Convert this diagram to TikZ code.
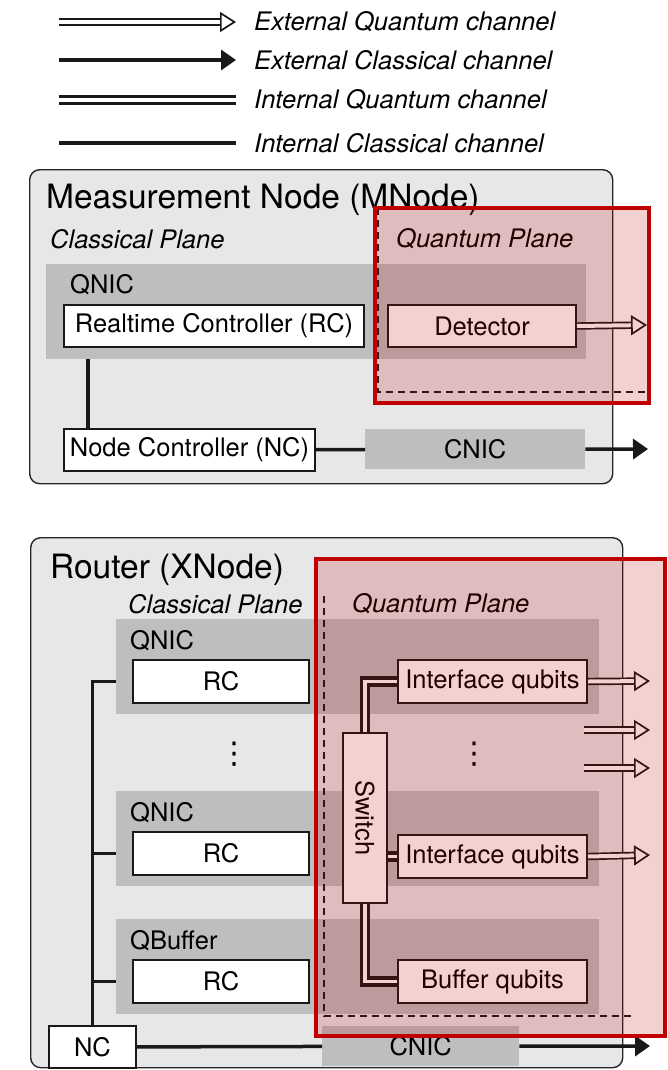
\documentclass[tikz,border=0pt]{standalone}
\usepackage{fontspec}
\setmainfont{TeX Gyre Heros}
\newfontfamily\symfont{DejaVu Sans}
\usetikzlibrary{arrows.meta,positioning}

\newcommand{\txtsize}{\fontsize{25.5}{30}\selectfont}
\newcommand{\headsize}{\fontsize{33.5}{40}\selectfont}

\tikzset{
  nodebox/.style={draw=black!85, line width=1.4pt, fill=nodebg, rounded corners=10pt, inner sep=0pt},
  card/.style={fill=cardgray, inner sep=0pt, font=\txtsize},
  unit/.style={draw=black!90, line width=2pt, fill=white, inner sep=0pt, font=\txtsize},
  txt/.style={anchor=west, inner sep=0pt, font=\txtsize},
  planelab/.style={anchor=west, inner sep=0pt, font=\txtsize\itshape},
  heading/.style={anchor=base west, inner sep=0pt, font=\headsize},
  vdot/.style={inner sep=0pt, font=\symfont\fontsize{30}{30}\selectfont},
  intc/.style={draw=black!90, line width=3.5pt},
  extc/.style={intc, -{Triangle[length=15pt, width=20pt]}},
  intq/.style={draw=black!90, line width=3.3pt, double=white, double distance=3.6pt},
  extq/.style={draw=black!90, line width=1.7pt, double=white, double distance=4pt,
    -{Triangle[length=16pt, width=20pt, fill=white, line width=1.7pt]}},
  planesep/.style={draw=black!90, line width=1.4pt, dash pattern=on 7pt off 5pt},
  qplane/.style={draw=qred, line width=3.6pt, fill=qred, fill opacity=0.18}
}

\begin{document}
\begin{tikzpicture}[x=1pt, y=-1pt, line join=miter]
  % colours
  \definecolor{nodebg}{RGB}{230,231,232}
  \definecolor{cardgray}{RGB}{188,190,192}
  \definecolor{qred}{RGB}{192,0,0}
  \useasboundingbox (0,0) rectangle (667,1070);

  % legend
  \node[txt, font=\txtsize\itshape] (lg1) at (254,22) {External Quantum channel};
  \node[txt, font=\txtsize\itshape] (lg2) at (254,60) {External Classical channel};
  \node[txt, font=\txtsize\itshape] (lg3) at (254,100) {Internal Quantum channel};
  \node[txt, font=\txtsize\itshape] (lg4) at (254,143) {Internal Classical channel};
  \foreach \i in {1,...,4} {
    \coordinate (la\i) at ([xshift=-195pt]lg\i.west);
    \coordinate (lb\i) at ([xshift=-18pt]lg\i.west);
  }
  \draw[extq] (la1) -- (lb1);
  \draw[extc] (la2) -- (lb2);
  \draw[intq] (la3) -- (lb3);
  \draw[intc] (la4) -- (lb4);

  % ---------------- Measurement node ----------------
  \node[nodebox, minimum width=583, minimum height=314, anchor=north west] (mnode) at (29,169) {};
  \node[heading] (mtitle) at (46,208) {Measurement Node (MNode)};
  \node[planelab] (mcl) at (50,239) {Classical Plane};
  \node[planelab] (mqu) at (396,239) {Quantum Plane};

  \node[card, minimum width=540, minimum height=95, anchor=north west] (mqnic) at (46,264) {};
  \node[txt] (mqlab) at (70,285) {QNIC};
  \node[unit, minimum width=300, minimum height=42, anchor=north west] (mrc) at (63,304) {Realtime Controller (RC)};
  \node[unit, minimum width=188, minimum height=42, anchor=north west] (det) at (387,304) {Detector};
  \node[unit, minimum width=251, minimum height=42, anchor=north west] (mnc) at (63,428) {Node Controller (NC)};
  \node[card, minimum width=220, minimum height=40, anchor=north west] (mcnic) at (365,429) {CNIC};

  \coordinate (mdout) at (647,325);
  \coordinate (mcout) at (648,449);
  \draw[intc] ([xshift=25pt]mrc.south west |- mqnic.south) -- ([xshift=25pt]mnc.north west);
  \draw[intc] (mnc) -- (mcnic);
  \draw[extc] (mcnic.east) -- (mcout);
  \draw[extq] (det.east) -- (mdout);

  % quantum plane of the MNode
  \draw[planesep] (378,208) -- (378,392) -- (647,392);
  \draw[qplane] (375,208) rectangle (649,403);

  % ---------------- Router ----------------
  \node[nodebox, minimum width=592, minimum height=530, anchor=north west] (router) at (30,537) {};
  \node[heading] (rtitle) at (50,578) {Router (XNode)};
  \node[planelab] (rcl) at (128,604) {Classical Plane};
  \node[planelab] (rqu) at (352,604) {Quantum Plane};

  % QNIC / QBuffer rows
  \foreach \n/\y/\lab in {1/619/QNIC, 2/791/QNIC, 3/919/QBuffer} {
    \node[card, minimum width=483, minimum height=95, anchor=north west] (row\n) at (116,\y) {};
    \node[txt] (lab\n) at (130,\y+22) {\lab};
    \node[unit, minimum width=176, minimum height=43, anchor=north west] (rc\n) at (132,\y+40) {RC};
  }
  \node[vdot] (vd1) at (234,754) {⋮};
  \node[vdot] (vd2) at (474,754) {⋮};

  \node[unit, minimum width=189, minimum height=43, anchor=north west] (iq1) at (397,659) {Interface qubits};
  \node[unit, minimum width=189, minimum height=43, anchor=north west] (iq2) at (397,834) {Interface qubits};
  \node[unit, minimum width=189, minimum height=43, anchor=north west] (bq) at (397,959) {Buffer qubits};
  \node[unit, minimum width=44, minimum height=170, anchor=north west] (sw) at (342,732) {\rotatebox{-90}{Switch}};

  \node[unit, minimum width=87, minimum height=42, anchor=north west] (rnc) at (48,1025) {NC};
  \node[card, minimum width=197, minimum height=40, anchor=north west] (rcnic) at (322,1026) {CNIC};

  % classical bus
  \draw[intc] (rnc.north) |- (rc1.west -| row1.west);
  \draw[intc] (rnc.north |- rc2.west) -- (rc2.west -| row2.west);
  \draw[intc] (rnc.north |- rc3.west) -- (rc3.west -| row3.west);
  \draw[intc] (rnc) -- (rcnic);
  \coordinate (rcout) at (650,1046);
  \draw[extc] (rcnic.east) -- (rcout);

  % quantum links
  \draw[intq] (sw.north) |- (iq1.west);
  \draw[intq] (sw.east |- iq2.west) -- (iq2.west);
  \draw[intq] (sw.south) |- (bq.west);
  \coordinate (q1out) at (650,681);
  \coordinate (q2in) at (584,730);
  \coordinate (q2out) at (650,730);
  \coordinate (q3in) at (584,768);
  \coordinate (q3out) at (650,768);
  \coordinate (q4out) at (650,855);
  \draw[extq] (iq1.east) -- (q1out);
  \draw[extq] (q2in) -- (q2out);
  \draw[extq] (q3in) -- (q3out);
  \draw[extq] (iq2.east) -- (q4out);

  % quantum plane of the router
  \draw[planesep] (324,596) -- (324,1016) -- (635,1016);
  \draw[qplane] (316,559) rectangle (665,1036);
\end{tikzpicture}
\end{document}
